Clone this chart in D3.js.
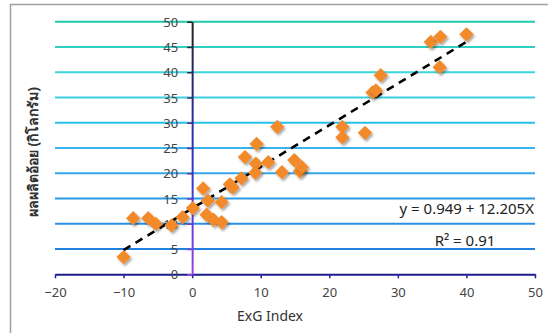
<!DOCTYPE html>
<html>
<head>
<meta charset="utf-8">
<script src="https://cdn.jsdelivr.net/npm/d3@7"></script>
<style>
  body { margin: 0; background: #fff; }
  text { font-family: "Noto Sans", "Open Sans", sans-serif; }
</style>
</head>
<body>
<div id="chart"></div>
<script>
// ExG index vs sugarcane yield (kg)
const exg = [-10.0, -8.6, -6.4, -5.3, -3.0, -1.4, 0.1, 1.6, 2.3, 2.1, 3.1, 4.3, 4.3, 5.5, 5.9,
  7.2, 7.7, 9.3, 9.4, 9.2, 11.1, 12.4, 13.1, 14.9, 15.7, 16.0, 21.9, 21.9, 25.2, 26.3, 26.8,
  27.5, 34.8, 36.2, 36.1, 40.0];
const yieldKg = [3.4, 11.1, 11.1, 10.0, 9.7, 11.3, 13.1, 17.0, 14.6, 11.8, 10.8, 10.3, 14.3, 17.8, 17.2,
  19.0, 23.2, 21.9, 25.8, 20.1, 22.2, 29.2, 20.2, 22.6, 20.4, 21.2, 29.2, 27.1, 28.0, 36.0, 36.4,
  39.4, 46.0, 47.0, 41.0, 47.5];
const trendX = [-10, 40];
const trendY = [4.8, 46.0];
const xTicks = [-20, -10, 0, 10, 20, 30, 40, 50];
const yTicks = [0, 5, 10, 15, 20, 25, 30, 35, 40, 45, 50];
const gridColors = ["#2080e0", "#2a8fe4", "#2b99e8", "#35a6ec", "#38b2ec", "#25c0ea",
  "#3ccde6", "#3dd6dc", "#2fd0c4", "#22c8a8"];
const yLabel = "ผลผลิตอ้อย (กิโลกรัม)";
const xLabel = "ExG Index";
const eqText = "y = 0.949 + 12.205X";
const r2Text = "R² = 0.91";

const W = 548, H = 333;
const svg = d3.select('#chart').append('svg')
  .attr('width', W)
  .attr('height', H);

const defs = svg.append('defs');
const shadow = defs.append('filter').attr('id', 'shadow')
  .attr('x', '-50%').attr('y', '-50%').attr('width', '200%').attr('height', '200%');
shadow.append('feDropShadow')
  .attr('dx', 1.5).attr('dy', 2).attr('stdDeviation', 1.3)
  .attr('flood-color', '#000').attr('flood-opacity', 0.35);

const x = d3.scaleLinear().domain([-20, 50]).range([55, 535]);
const y = d3.scaleLinear().domain([0, 50]).range([274.3, 21.7]);

const axGrad = defs.append('linearGradient').attr('id', 'yaxis')
  .attr('gradientUnits', 'userSpaceOnUse')
  .attr('x1', 0).attr('y1', y(50)).attr('x2', 0).attr('y2', y(0));
axGrad.append('stop').attr('offset', 0).attr('stop-color', '#222');
axGrad.append('stop').attr('offset', 0.35).attr('stop-color', '#2a2a98');
axGrad.append('stop').attr('offset', 0.65).attr('stop-color', '#3a3ad4');
axGrad.append('stop').attr('offset', 1).attr('stop-color', '#9a44e0');

// outer frame
svg.append('rect')
  .attr('x', 10.5).attr('y', 4.5)
  .attr('width', 600).attr('height', 400)
  .attr('fill', 'none')
  .attr('stroke', '#a0a0a0')
  .attr('stroke-width', 1.5);

// gridlines
svg.selectAll('.grid')
  .data(yTicks.filter(d => d > 0))
  .enter().append('line')
  .attr('class', 'grid')
  .attr('x1', x(-20)).attr('x2', x(50))
  .attr('y1', d => y(d)).attr('y2', d => y(d))
  .attr('stroke', (d, i) => gridColors[i])
  .attr('stroke-width', 2);

// x axis
const xAxis = svg.append('g')
  .attr('transform', `translate(0,${y(0)})`)
  .call(d3.axisBottom(x).tickValues(xTicks).tickSize(4).tickSizeOuter(0).tickPadding(9));
xAxis.select('.domain').attr('stroke', '#1c1c8a').attr('stroke-width', 2);
xAxis.selectAll('.tick line').attr('stroke', '#2020a0').attr('stroke-width', 1.5);
xAxis.selectAll('text').attr('font-size', 13).attr('fill', '#444');

// y axis at x = 0
const yAxis = svg.append('g')
  .attr('transform', `translate(${x(0)},0)`)
  .call(d3.axisLeft(y).tickValues(yTicks).tickSize(5).tickSizeOuter(0).tickPadding(9));
yAxis.select('.domain').attr('stroke', 'url(#yaxis)').attr('stroke-width', 2);
yAxis.selectAll('.tick line').attr('stroke', d => d3.interpolateRgb('#9a44e0', '#222')(d / 50)).attr('stroke-width', 1.5);
yAxis.selectAll('text').attr('font-size', 13).attr('fill', '#444').attr('dy', '0.35em');

// trend line
const line = d3.line()
  .x(d => x(d[0]))
  .y(d => y(d[1]));
svg.append('path')
  .datum(trendX.map((d, i) => [d, trendY[i]]))
  .attr('fill', 'none')
  .attr('stroke', '#000')
  .attr('stroke-width', 2.6)
  .attr('stroke-dasharray', '8,6')
  .attr('d', line);

// points
const diamond = d3.symbol().type(d3.symbolDiamond2).size(130);
svg.selectAll('.dot')
  .data(exg.map((d, i) => [d, yieldKg[i]]))
  .enter().append('path')
  .attr('class', 'dot')
  .attr('d', diamond)
  .attr('transform', d => `translate(${x(d[0])},${y(d[1])})`)
  .attr('fill', '#f28a2a')
  .attr('filter', 'url(#shadow)');

// equation labels
svg.append('text')
  .attr('x', 534).attr('y', 214)
  .attr('text-anchor', 'end')
  .attr('font-size', 15)
  .attr('fill', '#222')
  .text(eqText);
svg.append('text')
  .attr('x', 465).attr('y', 246)
  .attr('text-anchor', 'middle')
  .attr('font-size', 15)
  .attr('fill', '#222')
  .text(r2Text);

// axis titles
svg.append('text')
  .attr('x', 270).attr('y', 321)
  .attr('text-anchor', 'middle')
  .attr('font-size', 14)
  .attr('fill', '#333')
  .text(xLabel);
svg.append('text')
  .attr('transform', 'translate(38,152) rotate(-90)')
  .attr('text-anchor', 'middle')
  .attr('font-size', 14)
  .attr('font-weight', 'bold')
  .attr('fill', '#333')
  .text(yLabel);
</script>
</body>
</html>
